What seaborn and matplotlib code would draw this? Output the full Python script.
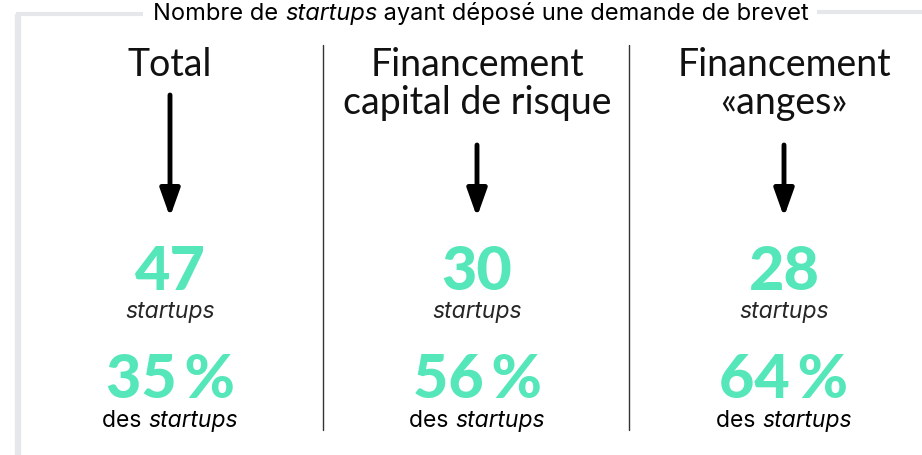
import matplotlib.pyplot as plt
import seaborn as sns

# Data
headings = ["Total", "Financement\ncapital de risque", "Financement\n«anges»"]
counts = [47, 30, 28]
shares = [35, 56, 64]
title_parts = [("Nombre de ", "normal"), ("startups", "italic"),
               (" ayant déposé une demande de brevet", "normal")]

GREEN = "#55e6b9"
BORDER = "#e6e7ea"
SMALL = ["Inter", "DejaVu Sans"]

sns.set_theme(style="white")
plt.rcParams["font.family"] = ["Lato", "DejaVu Sans"]

fig = plt.figure(figsize=(9.22, 4.55), dpi=100)
ax = fig.add_axes([0, 0, 1, 1])
ax.set_xlim(0, 922)
ax.set_ylim(455, 0)
ax.axis("off")
renderer = fig.canvas.get_renderer()


def mixed_text(parts, xc, y, size, color="black"):
    # draw normal/italic pieces in a row, centred on xc
    texts = [ax.text(0, y, s, fontsize=size, style=st, color=color,
                     family=SMALL, va="baseline", ha="left") for s, st in parts]
    widths = [t.get_window_extent(renderer).width for t in texts]
    x = xc - sum(widths) / 2
    for t, w in zip(texts, widths):
        t.set_x(x)
        x += w
    return x - sum(widths), x


# frame around the title
x0, x1 = mixed_text(title_parts, 481, 20, 17)
ax.plot([18, 18], [14, 455], color=BORDER, lw=4.5, solid_capstyle="butt")
ax.plot([16, x0 - 10], [14, 14], color=BORDER, lw=3, solid_capstyle="butt")
ax.plot([x1 + 8, 922], [12, 12], color=BORDER, lw=3, solid_capstyle="butt")

centers = [170, 477, 784]
for cx in [323, 629]:
    ax.plot([cx, cx], [45, 430], color="#333333", lw=1)

for i, (h, n, p) in enumerate(zip(headings, counts, shares)):
    cx = centers[i]
    lines = h.split("\n")
    for j, line in enumerate(lines):
        ax.text(cx, 76 + 38 * j, line, fontsize=27, color="#111111",
                ha="center", va="baseline")
    start = 95 if len(lines) == 1 else 145
    ax.annotate("", xy=(cx, 217), xytext=(cx, start),
                arrowprops=dict(arrowstyle="-|>,head_length=1.4,head_width=0.5",
                                color="black", lw=3.5, shrinkA=0, shrinkB=0))
    ax.text(cx, 290, str(n), fontsize=44, fontweight="black", color=GREEN,
            ha="center", va="baseline")
    ax.text(cx, 318, "startups", fontsize=16.5, style="italic", family=SMALL,
            ha="center", va="baseline")
    ax.text(cx, 398, f"{p}\u2009%", fontsize=44, fontweight="black", color=GREEN,
            ha="center", va="baseline")
    mixed_text([("des ", "normal"), ("startups", "italic")], cx, 427, 16.5)

fig.savefig("out.png", dpi=100)
